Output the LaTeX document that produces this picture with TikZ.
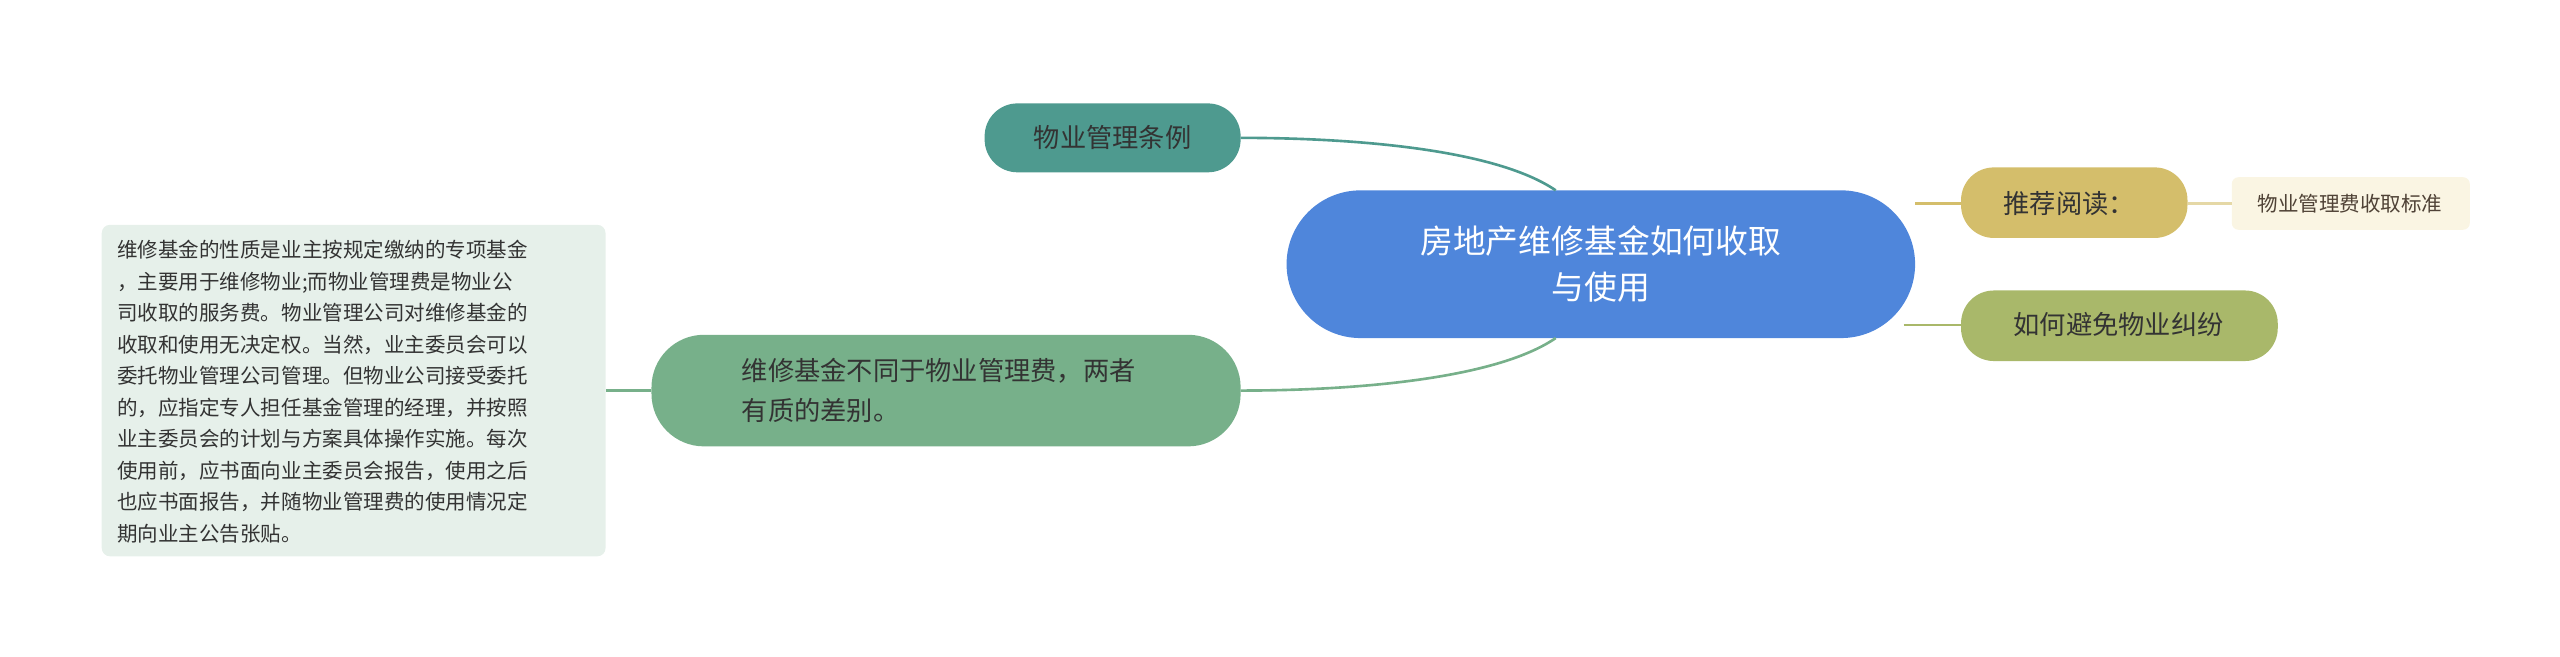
\documentclass[tikz,border=0pt]{standalone}
\usepackage{fontspec}
\setmainfont{Noto Sans CJK SC}
\begin{document}
\begin{tikzpicture}[x=1pt,y=-1pt,
  box/.style={rounded corners=#1,inner sep=0,outer sep=0},
  lnk/.style={line width=1.6pt}]
\useasboundingbox (0,0) rectangle (1560,400);
\definecolor{cmain}{HTML}{4F86DB}
\definecolor{cteal}{HTML}{4E9A8F}
\definecolor{cgreen}{HTML}{77B08A}
\definecolor{cpale}{HTML}{E6F0EA}
\definecolor{cgold}{HTML}{D4BE6B}
\definecolor{ccream}{HTML}{FAF5E3}
\definecolor{colive}{HTML}{A9B86A}
\definecolor{ctext}{HTML}{333333}
\fill[cmain,rounded corners=45] (784,116) rectangle (1167,206);
\node[text=white,font=\fontsize{20}{28}\selectfont,align=center] (c) at (975.5,161) {房地产维修基金如何收取\\与使用};
\coordinate (ct) at (948,116); \coordinate (cb) at (948,206);
\coordinate (cr1) at (1167,124); \coordinate (cr2) at (1160,198);
\fill[cteal,rounded corners=20] (600,63) rectangle (756,105);
\node[text=ctext,font=\fontsize{16}{20}\selectfont] (a) at (678,84) {物业管理条例};
\coordinate (ar) at (756,84);
\fill[cgreen,rounded corners=32] (397,204) rectangle (756,272);
\node[text=ctext,font=\fontsize{16}{24}\selectfont,align=left] (b) at (572,238) {维修基金不同于物业管理费，两者\\有质的差别。};
\coordinate (br) at (756,238); \coordinate (bl) at (397,238);
\fill[cpale,rounded corners=5] (62,137) rectangle (369,339);
\node[text=ctext,font=\fontsize{12.5}{19.2}\selectfont,align=left,anchor=north west] (d) at (68,143) {维修基金的性质是业主按规定缴纳的专项基金\\，主要用于维修物业;而物业管理费是物业公\\司收取的服务费。物业管理公司对维修基金的\\收取和使用无决定权。当然，业主委员会可以\\委托物业管理公司管理。但物业公司接受委托\\的，应指定专人担任基金管理的经理，并按照\\业主委员会的计划与方案具体操作实施。每次\\使用前，应书面向业主委员会报告，使用之后\\也应书面报告，并随物业管理费的使用情况定\\期向业主公告张贴。};
\coordinate (dr) at (369,238);
\fill[cgold,rounded corners=20] (1195,102) rectangle (1333,145);
\node[text=ctext,font=\fontsize{16}{20}\selectfont] (e) at (1261,124) {推荐阅读：};
\coordinate (el) at (1195,124); \coordinate (er) at (1333,124);
\fill[ccream,rounded corners=4] (1360,108) rectangle (1505,140);
\node[text=ctext!80!brown,font=\fontsize{12.5}{16}\selectfont] (f) at (1432,124) {物业管理费收取标准};
\coordinate (fl) at (1360,124);
\fill[colive,rounded corners=20] (1195,177) rectangle (1388,220);
\node[text=ctext,font=\fontsize{16}{20}\selectfont] (g) at (1291,198) {如何避免物业纠纷};
\coordinate (gl) at (1195,198);
\draw[lnk,cteal] (ct) .. controls (910,90) and (820,84) .. (ar);
\draw[lnk,cgreen] (cb) .. controls (910,232) and (820,238) .. (br);
\draw[lnk,cgreen] (bl) -- (dr);
\draw[lnk,cgold] (cr1) -- (el);
\draw[lnk,cgold!60] (er) -- (fl);
\draw[lnk,colive] (cr2) .. controls (1175,198) .. (gl);
\end{tikzpicture}
\end{document}
